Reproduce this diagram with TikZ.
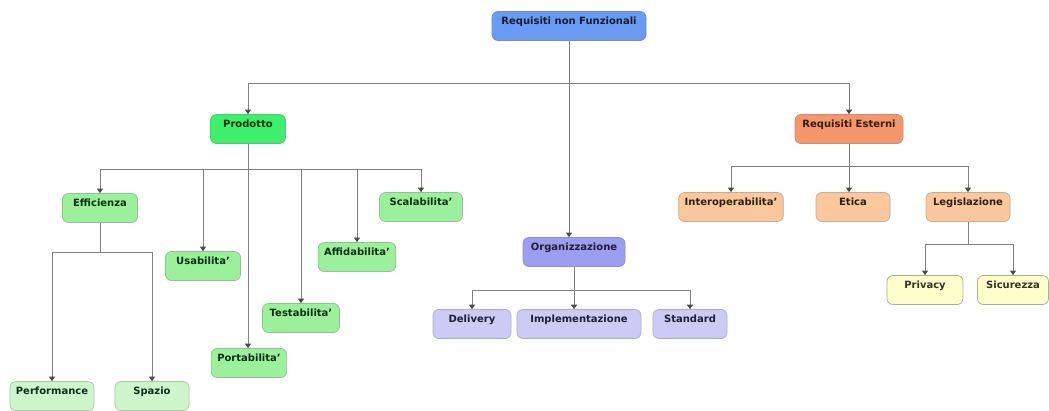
\documentclass[tikz,border=0pt]{standalone}
\usepackage{fontspec}
\setmainfont{DejaVu Sans}
\usetikzlibrary{arrows.meta}
\definecolor{lineC}{HTML}{808080}
\definecolor{tipC}{HTML}{4A4A4A}
\definecolor{blueF}{HTML}{6A9AF2}
\definecolor{greenF}{HTML}{3CF06C}
\definecolor{greenL}{HTML}{9CF09C}
\definecolor{greenP}{HTML}{CDF6CD}
\definecolor{violF}{HTML}{9C9CF0}
\definecolor{violL}{HTML}{CBCBF6}
\definecolor{orangeF}{HTML}{F5976A}
\definecolor{orangeL}{HTML}{F9C89C}
\definecolor{yellowL}{HTML}{FFFFCC}
\tikzset{every picture/.style={line width=0.75pt}}
\tikzset{
	req/.style={draw=#1!60!gray, rounded corners=6pt, minimum width=75pt, minimum height=29pt,
		inner xsep=6pt, inner ysep=3pt, text height=10pt, text depth=13pt, font=\fontsize{10}{12}\selectfont\bfseries},
	rblue/.style={req=blueF, fill=blueF, text=blueF!20!black},
	rgreen/.style={req=greenF, fill=greenF, text=greenF!20!black},
	rgreenl/.style={req=greenL, fill=greenL, text=greenF!20!black},
	rgreenp/.style={req=greenP, fill=greenP, text=greenF!20!black},
	rviol/.style={req=violF, fill=violF, text=violF!20!black},
	rviolL/.style={req=violL, fill=violL, text=violF!20!black},
	rorange/.style={req=orangeF, fill=orangeF, text=orangeF!20!black},
	rorangeL/.style={req=orangeL, fill=orangeL, text=orangeF!20!black},
	ryellow/.style={req=yellowL!60!gray, fill=yellowL, text=yellowL!20!black},
	wire/.style={draw=lineC, line width=0.9pt},
	link/.style={wire, -{Triangle[width=6pt,length=4.5pt,color=tipC]}}
}
\begin{document}
\begin{tikzpicture}[x=1pt, y=-1pt]
	\useasboundingbox[fill=white] (0,0) rectangle (1049,410);
	\node[rblue, minimum width=154pt](RNF) at (569, 26){Requisiti non Funzionali};
	\node[rgreen](PR) at (248, 129){Prodotto};
	\node[rorange, minimum width=108pt](RE) at (849, 129){Requisiti Esterni};
	\node[rgreenl](EF) at (100, 208){Efficienza};
	\node[rgreenl](US) at (203, 266){Usabilita'};
	\node[rgreenl](PO) at (249, 363){Portabilita'};
	\node[rgreenl, minimum width=77pt](TE) at (301, 318){Testabilita'};
	\node[rgreenl, minimum width=77pt](AF) at (357, 257){Affidabilita'};
	\node[rgreenl, minimum width=83pt](SC) at (421, 207){Scalabilita'};
	\node[rgreenp, minimum width=83pt](PF) at (52, 396){Performance};
	\node[rgreenp, minimum width=74pt](SP) at (152, 396){Spazio};
	\node[rviol, minimum width=102pt](OR) at (574, 252){Organizzazione};
	\node[rviolL, minimum width=78pt](DE) at (472, 324){Delivery};
	\node[rviolL, minimum width=124pt](IM) at (579, 324){Implementazione};
	\node[rviolL, minimum width=74pt](ST) at (690, 324){Standard};
	\node[rorangeL, minimum width=104pt](IN) at (731, 207){Interoperabilita'};
	\node[rorangeL, minimum width=74pt](ET) at (853, 207){Etica};
	\node[rorangeL, minimum width=84pt](LE) at (968, 207){Legislazione};
	\node[ryellow, minimum width=76pt](PV) at (925, 290){Privacy};
	\node[ryellow, minimum width=71pt](SI) at (1013, 290){Sicurezza};
	\coordinate (B1) at (569, 83);
	\coordinate (B2) at (248, 169);
	\coordinate (B3) at (100, 252);
	\coordinate (B4) at (574, 290);
	\coordinate (B5) at (849, 166);
	\coordinate (B6) at (968, 244);
	\draw[link] (RNF.south) -- (OR.north -| RNF.south);
	\draw[link] (B1) -| (PR.north);
	\draw[link] (B1) -| (RE.north);
	\draw[link] (PR.south) -- (PO.north -| PR.south);
	\draw[link] (B2) -| (EF.north);
	\draw[link] (B2) -| (US.north);
	\draw[link] (B2) -| (TE.north);
	\draw[link] (B2) -| (AF.north);
	\draw[link] (B2) -| (SC.north);
	\draw[wire] (EF.south) -- (B3);
	\draw[link] (B3) -| (PF.north);
	\draw[link] (B3) -| (SP.north);
	\draw[link] (OR.south) -- (IM.north -| OR.south);
	\draw[link] (B4) -| (DE.north);
	\draw[link] (B4) -| (ST.north);
	\draw[link] (RE.south) -- (ET.north -| RE.south);
	\draw[link] (B5) -| (IN.north);
	\draw[link] (B5) -| (LE.north);
	\draw[wire] (LE.south) -- (B6);
	\draw[link] (B6) -| (PV.north);
	\draw[link] (B6) -| (SI.north);
\end{tikzpicture}
\end{document}
